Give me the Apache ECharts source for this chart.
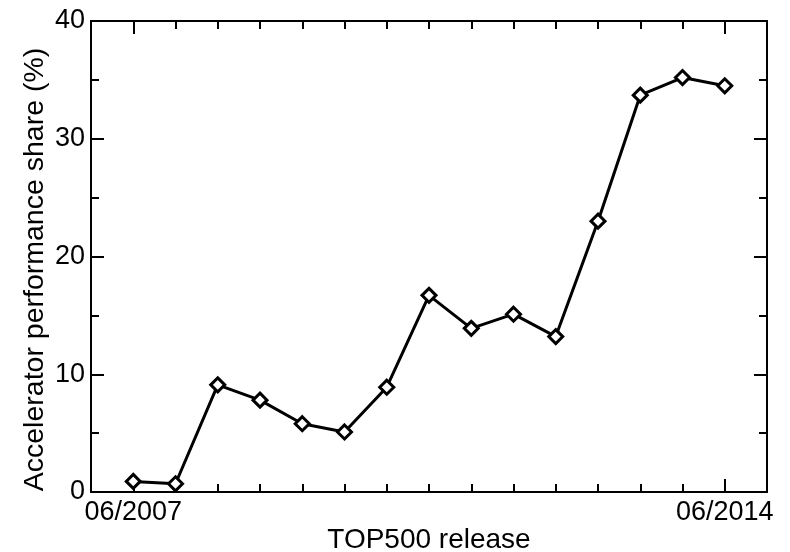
<!DOCTYPE html>
<html>
<head>
<meta charset="utf-8">
<script src="https://cdn.jsdelivr.net/npm/echarts@6/dist/echarts.min.js"></script>
<style>
  html, body { margin: 0; padding: 0; background: #fff; }
  #chart { width: 790px; height: 552px; }
</style>
</head>
<body>
<div id="chart"></div>
<script>
// TOP500 releases, twice a year
var releases = ['06/2007', '11/2007', '06/2008', '11/2008', '06/2009', '11/2009', '06/2010', '11/2010',
                '06/2011', '11/2011', '06/2012', '11/2012', '06/2013', '11/2013', '06/2014'];
var share = [0.9, 0.7, 9.1, 7.8, 5.8, 5.1, 8.9, 16.7, 13.9, 15.1, 13.2, 23.0, 33.7, 35.2, 34.5];
var labelledIdx = [0, 14];
var yTicks = [0, 10, 20, 30, 40];

var FONT = 'Liberation Sans';
var black = '#000';

var points = share.map(function(v, i) { return [i, v]; });

function xAx(pos, tickLen, custom, withLine, withLabel) {
    var tick = { show: true, inside: true, length: tickLen, lineStyle: { color: black, width: 2 } };
    if (custom) tick.customValues = custom;
    return {
        type: 'value',
        position: pos,
        min: -1,
        max: releases.length,
        interval: 1,
        splitLine: { show: false },
        axisLine: { show: withLine, onZero: false, lineStyle: { color: black, width: 2 } },
        axisTick: tick,
        axisLabel: {
            show: withLabel,
            margin: 7,
            color: black,
            fontFamily: FONT,
            fontSize: 27,
            formatter: function(v) {
                return labelledIdx.indexOf(v) >= 0 ? releases[v] : '';
            }
        }
    };
}

function yAx(pos, withLabel) {
    return {
        type: 'value',
        position: pos,
        min: yTicks[0],
        max: yTicks[yTicks.length - 1],
        interval: 10,
        splitLine: { show: false },
        axisLine: { show: true, onZero: false, lineStyle: { color: black, width: 2 } },
        axisTick: { show: true, inside: true, length: 13, lineStyle: { color: black, width: 2 } },
        minorTick: { show: true, splitNumber: 2, length: 8, lineStyle: { color: black, width: 2 } },
        axisLabel: { show: withLabel, margin: 6, color: black, fontFamily: FONT, fontSize: 27 }
    };
}

var chart = echarts.init(document.getElementById('chart'));

var xBottom = xAx('bottom', 8, null, true, true);
xBottom.name = 'TOP500 release';
xBottom.nameLocation = 'middle';
xBottom.nameGap = 34;
xBottom.nameMoveOverlap = false;
xBottom.nameTextStyle = { color: black, fontFamily: FONT, fontSize: 28 };

var yLeft = yAx('left', true);
yLeft.name = 'Accelerator performance share (%)';
yLeft.nameLocation = 'middle';
yLeft.nameGap = 41;
yLeft.nameMoveOverlap = false;
yLeft.nameTextStyle = { color: black, fontFamily: FONT, fontSize: 28.5, padding: [0, 26, 0, 0] };

var option = {
    backgroundColor: '#fff',
    animation: false,
    grid: { left: 91, right: 23, top: 21, bottom: 60, outerBoundsMode: 'none', containLabel: false },
    xAxis: [
        xBottom,
        xAx('bottom', 13, labelledIdx, false, false),
        xAx('top', 8, null, true, false),
        xAx('top', 13, labelledIdx, false, false)
    ],
    yAxis: [yLeft, yAx('right', false)],
    series: [{
        type: 'line',
        xAxisIndex: 0,
        yAxisIndex: 0,
        data: points,
        lineStyle: { color: black, width: 3 },
        symbol: 'diamond',
        symbolSize: 14,
        itemStyle: { color: '#fff', borderColor: black, borderWidth: 3 },
        z: 5
    }]
};

chart.setOption(option);
</script>
</body>
</html>
